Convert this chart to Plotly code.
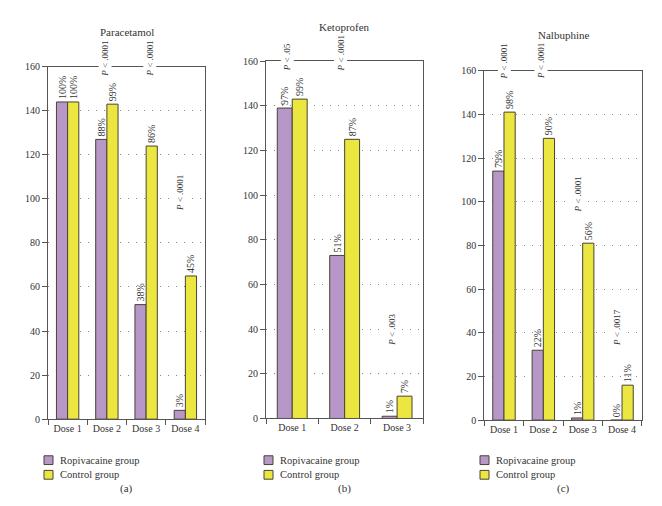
import plotly.graph_objects as go

# ---- data ----
doses_para = ["Dose 1", "Dose 2", "Dose 3", "Dose 4"]
para_ropi = [144, 127, 52, 4]
para_ropi_pct = ["100%", "88%", "38%", "3%"]
para_ctrl = [144, 143, 124, 65]
para_ctrl_pct = ["100%", "99%", "86%", "45%"]

doses_keto = ["Dose 1", "Dose 2", "Dose 3"]
keto_ropi = [139, 73, 1]
keto_ropi_pct = ["97%", "51%", "1%"]
keto_ctrl = [143, 125, 10]
keto_ctrl_pct = ["99%", "87%", "7%"]

doses_nalb = ["Dose 1", "Dose 2", "Dose 3", "Dose 4"]
nalb_ropi = [114, 32, 1, 0]
nalb_ropi_pct = ["79%", "22%", "1%", "0%"]
nalb_ctrl = [141, 129, 81, 16]
nalb_ctrl_pct = ["98%", "90%", "56%", "11%"]

series_names = ["Ropivacaine group", "Control group"]
titles = ["Paracetamol", "Ketoprofen", "Nalbuphine"]
sublabels = ["(a)", "(b)", "(c)"]

# p-value annotations: (category index position, y value, text)
pvals_para = [(0.95, 154.5, "P &lt; .0001"), (2.09, 154.5, "P &lt; .0001"), (2.86, 93.5, "P &lt; .0001")]
pvals_keto = [(-0.085, 154.5, "P &lt; .05"), (0.93, 154.5, "P &lt; .0001"), (1.9, 31.6, "P &lt; .003")]
pvals_nalb = [(0.0, 155.0, "P &lt; .0001"), (0.93, 155.0, "P &lt; .0001"), (1.89, 94.3, "P &lt; .0001"), (2.86, 33.0, "P &lt; .0017")]

PURPLE = "#b697c8"
YELLOW = "#ebe640"
EDGE = "#4a4334"
TXT = "#333333"
FONT = "Liberation Serif"
COLORS = [PURPLE, YELLOW]

panels = [
    (doses_para, para_ropi, para_ropi_pct, para_ctrl, para_ctrl_pct, pvals_para),
    (doses_keto, keto_ropi, keto_ropi_pct, keto_ctrl, keto_ctrl_pct, pvals_keto),
    (doses_nalb, nalb_ropi, nalb_ropi_pct, nalb_ctrl, nalb_ctrl_pct, pvals_nalb),
]

W, H = 662, 506
OFF = 8  # page body margin compensation
xdom_px = [(48, 205), (266, 423.3), (484.3, 641.7)]
ydom_px = [(62, 423), (56.3, 422.3), (66, 424)]
title_y_px = [26, 21, 29]
legend_x_px = [44, 264, 480]
legend_row_y = [465, 480]


def px(x):
    return (x - OFF) / W


def py(y):
    return 1 - (y - OFF) / H


fig = go.Figure()
annotations = []
shapes = []
layout = {}

for i, (doses, ropi, ropi_pct, ctrl, ctrl_pct, pvals) in enumerate(panels):
    n = "" if i == 0 else str(i + 1)
    xa, ya = "x" + n, "y" + n
    for name, vals, pct, col in [(series_names[0], ropi, ropi_pct, PURPLE),
                                 (series_names[1], ctrl, ctrl_pct, YELLOW)]:
        fig.add_trace(go.Bar(
            x=doses, y=vals, name=name, text=pct,
            textposition="outside", textangle=-90, constraintext="none",
            cliponaxis=False,
            textfont=dict(family=FONT, size=10, color=TXT),
            marker=dict(color=col, line=dict(color=EDGE, width=1)),
            xaxis=xa, yaxis=ya, showlegend=False,
        ))
    x0, x1 = xdom_px[i]
    y0, y1 = ydom_px[i]
    layout["xaxis" + n] = dict(
        domain=[px(x0), px(x1)], anchor=ya, type="category",
        tickson="boundaries", ticks="outside", ticklen=5, tickcolor="#555",
        showline=True, linecolor="#555", linewidth=1, mirror=True,
        showgrid=False, tickfont=dict(family=FONT, size=10, color=TXT),
    )
    layout["yaxis" + n] = dict(
        domain=[py(y1), py(y0)], anchor=xa, range=[0, 160], dtick=20,
        ticks="outside", ticklen=5, tickcolor="#555",
        showline=True, linecolor="#555", linewidth=1, mirror=True,
        showgrid=True, gridcolor="#888", griddash="1px,7px", gridwidth=1,
        zeroline=False, tickfont=dict(family=FONT, size=10, color=TXT),
    )
    cx = (x0 + x1) / 2
    annotations.append(dict(xref="paper", yref="paper", x=px(cx), y=py(title_y_px[i]),
                            xanchor="center", yanchor="middle",
                            text=titles[i], showarrow=False,
                            font=dict(family=FONT, size=11, color=TXT)))
    annotations.append(dict(xref="paper", yref="paper", x=px(cx), y=py(494),
                            xanchor="center", yanchor="middle",
                            text=sublabels[i], showarrow=False,
                            font=dict(family=FONT, size=11, color=TXT)))
    # custom legend
    lx = legend_x_px[i]
    for k in range(2):
        ry = legend_row_y[k]
        shapes.append(dict(type="rect", xref="paper", yref="paper",
                           x0=px(lx), x1=px(lx + 9), y0=py(ry + 4.5), y1=py(ry - 4.5),
                           fillcolor=COLORS[k], line=dict(color=EDGE, width=1)))
        annotations.append(dict(xref="paper", yref="paper", x=px(lx + 14), y=py(ry),
                                xanchor="left", yanchor="middle",
                                text=series_names[k], showarrow=False,
                                font=dict(family=FONT, size=10.5, color=TXT)))
    for (pxv, pyv, t) in pvals:
        annotations.append(dict(
            xref=xa, yref=ya, x=pxv, y=pyv, text=t.replace("P", "<i>P</i>", 1),
            textangle=-90, showarrow=False, yanchor="bottom", xanchor="center",
            bgcolor="white", borderpad=1,
            font=dict(family=FONT, size=9, color=TXT)))

fig.update_layout(
    width=W, height=H, margin=dict(l=0, r=0, t=0, b=0),
    plot_bgcolor="white", paper_bgcolor="white",
    barmode="group", bargap=0.43, bargroupgap=0, showlegend=False,
    annotations=annotations, shapes=shapes, **layout,
)

fig.write_html("out.html")
